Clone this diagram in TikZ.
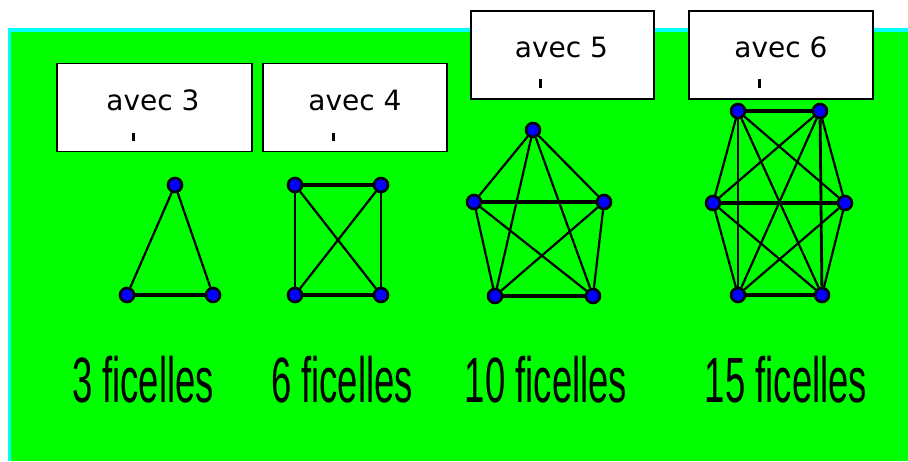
\documentclass[tikz,border=0pt]{standalone}
\usepackage{fontspec}
\setmainfont{DejaVu Sans}
\newfontfamily\pixfont{Liberation Sans}
\definecolor{bggreen}{RGB}{0,255,0}
\definecolor{bgcyan}{RGB}{0,255,255}
\definecolor{dotblue}{RGB}{0,0,255}
\tikzset{
  vtx/.style={circle,fill=dotblue,draw=black,line width=2.6pt,minimum size=14pt,inner sep=0pt},
  edg/.style={draw=black,line width=2.2pt},
  hedg/.style={draw=black,line width=3.4pt},
  vedg/.style={draw=black,line width=2.8pt},
  box/.style={draw=black,line width=1.8pt,fill=white,minimum width=#1,minimum height=88pt,inner sep=0pt},
  box/.default=190pt,
  boxtxt/.style={anchor=base,inner sep=0pt,font=\fontsize{28}{32}\selectfont},
  cnt/.style={anchor=base,inner sep=0pt,font=\pixfont\fontsize{64}{70}\selectfont},
}
\begin{document}
\begin{tikzpicture}[x=1pt,y=-1pt]
\useasboundingbox (0,0) rectangle (908,461);
\fill[white] (0,0) rectangle (908,461);
\fill[bgcyan] (8,28) rectangle (908,461);
\fill[bggreen] (11,32) rectangle (908,461);

% boxes
\node[box=195pt] (b1) at (154.5,107.5) {};
\node[box=184pt] (b2) at (355,107.5) {};
\node[box=183pt] (b3) at (562.5,55) {};
\node[box=184pt] (b4) at (781,55) {};
\node[boxtxt] (l1) at (153,110) {avec 3};
\node[boxtxt] (l2) at (355,110) {avec 4};
\node[boxtxt] (l3) at (561.5,57) {avec 5};
\node[boxtxt] (l4) at (781,57) {avec 6};
\fill[black] (132,133) rectangle (135,141);
\fill[black] (332,133) rectangle (335,141);
\fill[black] (539,79) rectangle (542,88);
\fill[black] (758,79) rectangle (761,88);

% triangle
\node[vtx] (t1) at (175,185) {};
\node[vtx] (t2) at (127,295) {};
\node[vtx] (t3) at (213,295) {};
\draw[edg] (t1) -- (t2);
\draw[edg] (t1) -- (t3);
\draw[hedg] (t2) -- (t3);

% square
\node[vtx] (s1) at (295,185) {};
\node[vtx] (s2) at (381,185) {};
\node[vtx] (s3) at (381,295) {};
\node[vtx] (s4) at (295,295) {};
\draw[hedg] (s1) -- (s2);
\draw[hedg] (s4) -- (s3);
\draw[vedg] (s1) -- (s4);
\draw[vedg] (s2) -- (s3);
\draw[edg] (s1) -- (s3);
\draw[edg] (s2) -- (s4);

% pentagon
\node[vtx] (p1) at (533,130) {};
\node[vtx] (p2) at (604,202) {};
\node[vtx] (p3) at (593,296) {};
\node[vtx] (p4) at (495,296) {};
\node[vtx] (p5) at (474,202) {};
\draw[edg] (p1) -- (p2);
\draw[edg] (p1) -- (p3);
\draw[edg] (p1) -- (p4);
\draw[edg] (p1) -- (p5);
\draw[edg] (p2) -- (p3);
\draw[edg] (p2) -- (p4);
\draw[hedg] (p2) -- (p5);
\draw[hedg] (p3) -- (p4);
\draw[edg] (p3) -- (p5);
\draw[edg] (p4) -- (p5);

% hexagon
\node[vtx] (h1) at (738,111) {};
\node[vtx] (h2) at (820,111) {};
\node[vtx] (h3) at (845,203) {};
\node[vtx] (h4) at (822,295) {};
\node[vtx] (h5) at (738,295) {};
\node[vtx] (h6) at (713,203) {};
\draw[hedg] (h1) -- (h2);
\draw[edg] (h1) -- (h3);
\draw[edg] (h1) -- (h4);
\draw[vedg] (h1) -- (h5);
\draw[edg] (h1) -- (h6);
\draw[edg] (h2) -- (h3);
\draw[vedg] (h2) -- (h4);
\draw[edg] (h2) -- (h5);
\draw[edg] (h2) -- (h6);
\draw[edg] (h3) -- (h4);
\draw[edg] (h3) -- (h5);
\draw[hedg] (h3) -- (h6);
\draw[hedg] (h4) -- (h5);
\draw[edg] (h4) -- (h6);
\draw[edg] (h5) -- (h6);

% counts
\node[cnt] (c1) at (143,402) {\scalebox{0.57}[1]{3 ficelles}};
\node[cnt] (c2) at (342,402) {\scalebox{0.57}[1]{6 ficelles}};
\node[cnt] (c3) at (546,402) {\scalebox{0.57}[1]{10 ficelles}};
\node[cnt] (c4) at (786,402) {\scalebox{0.57}[1]{15 ficelles}};
\end{tikzpicture}
\end{document}
